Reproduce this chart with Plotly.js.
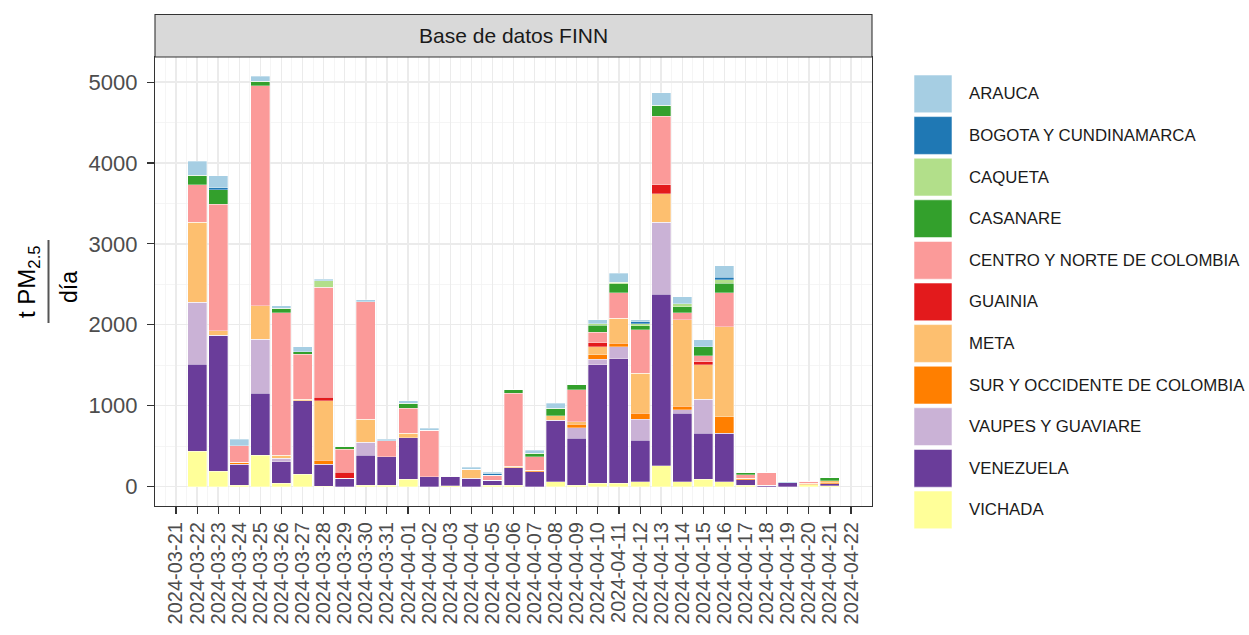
<!DOCTYPE html>
<html>
<head>
<meta charset="utf-8">
<script src="https://cdn.plot.ly/plotly-3.0.1.min.js"></script>
<style>
  html, body { margin: 0; padding: 0; background: #ffffff; }
  #chart { width: 1249px; height: 635px; }
</style>
</head>
<body>
<div id="chart"></div>
<script>
// ---------------- DATA ----------------
const dates = [
  '2024-03-22','2024-03-23','2024-03-24','2024-03-25','2024-03-26','2024-03-27','2024-03-28',
  '2024-03-29','2024-03-30','2024-03-31','2024-04-01','2024-04-02','2024-04-03','2024-04-04',
  '2024-04-05','2024-04-06','2024-04-07','2024-04-08','2024-04-09','2024-04-10','2024-04-11',
  '2024-04-12','2024-04-13','2024-04-14','2024-04-15','2024-04-16','2024-04-17','2024-04-18',
  '2024-04-19','2024-04-20','2024-04-21'
];
const tickDates = [
  '2024-03-21','2024-03-22','2024-03-23','2024-03-24','2024-03-25','2024-03-26','2024-03-27',
  '2024-03-28','2024-03-29','2024-03-30','2024-03-31','2024-04-01','2024-04-02','2024-04-03',
  '2024-04-04','2024-04-05','2024-04-06','2024-04-07','2024-04-08','2024-04-09','2024-04-10',
  '2024-04-11','2024-04-12','2024-04-13','2024-04-14','2024-04-15','2024-04-16','2024-04-17',
  '2024-04-18','2024-04-19','2024-04-20','2024-04-21','2024-04-22'
];
const yTicks = [0, 1000, 2000, 3000, 4000, 5000];
const regions = [
  'ARAUCA','BOGOTA Y CUNDINAMARCA','CAQUETA','CASANARE','CENTRO Y NORTE DE COLOMBIA',
  'GUAINIA','META','SUR Y OCCIDENTE DE COLOMBIA','VAUPES Y GUAVIARE','VENEZUELA','VICHADA'
];
const arauca    = [173,149,83,62,30,62,15,0,20,20,32,20,0,20,15,0,41,62,0,50,115,25,153,90,83,140,0,0,10,0,0];
const bogota    = [0,24,0,0,0,0,0,0,0,0,0,0,0,0,19,0,0,0,0,0,0,25,0,0,0,33,0,0,0,0,0];
const caqueta   = [0,0,0,0,0,0,82,0,0,0,0,0,0,0,0,0,0,0,0,15,17,25,0,33,0,41,0,0,0,0,0];
const casanare  = [116,178,0,53,54,28,0,33,0,0,62,0,0,0,0,41,42,91,62,88,107,49,136,75,111,116,25,0,0,0,41];
const centro    = [466,1563,206,2719,1761,561,1361,284,1452,198,310,577,0,0,62,900,165,0,392,128,317,536,846,90,74,421,45,152,0,25,0];
const guainia   = [0,0,0,0,0,0,42,75,0,0,0,0,0,0,0,0,0,0,0,50,0,0,111,0,41,0,0,0,0,0,0];
const meta      = [985,58,0,416,41,15,734,0,288,0,54,0,0,116,0,20,0,54,29,103,310,495,355,1065,425,1114,0,0,0,20,20];
const sur       = [0,0,25,0,0,0,50,0,0,0,0,0,0,0,0,0,21,0,45,53,42,71,0,49,0,206,15,0,0,0,15];
const vaupes    = [768,0,0,669,42,0,0,0,157,0,0,0,0,0,0,0,0,0,131,70,152,260,886,41,421,0,0,0,0,0,0];
const venezuela = [1073,1679,255,763,267,911,272,101,371,350,515,122,120,101,61,214,183,763,578,1464,1538,515,2121,846,569,598,70,19,50,0,25];
const vichada   = [439,192,19,390,40,151,6,0,19,19,89,0,10,0,19,19,0,60,19,40,40,60,258,60,89,60,15,0,0,20,10];

// ---------------- STYLE ----------------
const seriesByRegion = {
  'ARAUCA': arauca, 'BOGOTA Y CUNDINAMARCA': bogota, 'CAQUETA': caqueta, 'CASANARE': casanare,
  'CENTRO Y NORTE DE COLOMBIA': centro, 'GUAINIA': guainia, 'META': meta,
  'SUR Y OCCIDENTE DE COLOMBIA': sur, 'VAUPES Y GUAVIARE': vaupes, 'VENEZUELA': venezuela, 'VICHADA': vichada
};
const palette = ['#A6CEE3','#1F78B4','#B2DF8A','#33A02C','#FB9A99','#E31A1C','#FDBF6F','#FF7F00','#CAB2D6','#6A3D9A','#FFFF99'];
const FONT = 'Liberation Sans, Arial, Helvetica, sans-serif';

// panel geometry (pixels)
const L = 155, R = 872, T = 57, B = 506;
const W = R - L, H = B - T;
const px2x = p => (p - L) / W;
const px2y = p => (B - p) / H;

// ---------------- TRACES (stack bottom-up: VICHADA first) ----------------
const traces = [];
for (let i = regions.length - 1; i >= 0; i--) {
  traces.push({
    type: 'bar',
    name: regions[i],
    x: dates,
    y: seriesByRegion[regions[i]],
    width: 0.9 * 86400000,
    marker: { color: palette[i], line: { color: 'rgba(255,255,255,0.55)', width: 0.6 } },
    hoverinfo: 'skip',
    showlegend: false
  });
}

// ---------------- SHAPES & ANNOTATIONS ----------------
const shapes = [];
const annotations = [];

// strip
shapes.push({
  type: 'rect', xref: 'paper', yref: 'paper',
  x0: 0, x1: 1, y0: 1, y1: px2y(14.5),
  fillcolor: '#D9D9D9', line: { color: '#333333', width: 1.1 }, layer: 'above'
});
annotations.push({
  text: 'Base de datos FINN', xref: 'paper', yref: 'paper',
  x: 0.5, y: px2y(35.6), xanchor: 'center', yanchor: 'middle', showarrow: false,
  font: { family: FONT, size: 21, color: '#1A1A1A' }
});

// y-axis title as fraction
annotations.push({
  text: 't PM<sub>2.5</sub>', xref: 'paper', yref: 'paper',
  x: px2x(28), y: px2y(282), xanchor: 'center', yanchor: 'middle', showarrow: false,
  textangle: -90, font: { family: FONT, size: 24, color: '#000000' }
});
shapes.push({
  type: 'line', xref: 'paper', yref: 'paper',
  x0: px2x(48.5), x1: px2x(48.5), y0: px2y(240), y1: px2y(323),
  line: { color: '#555555', width: 2 }
});
annotations.push({
  text: 'día', xref: 'paper', yref: 'paper',
  x: px2x(69), y: px2y(287), xanchor: 'center', yanchor: 'middle', showarrow: false,
  textangle: -90, font: { family: FONT, size: 23, color: '#000000' }
});

// custom legend
const keyLeft = 914, keyRight = 952, keyTop0 = 75, keyStep = 41.6, keyH = 37.8, textLeft = 967;
regions.forEach((r, i) => {
  const top = keyTop0 + i * keyStep;
  shapes.push({
    type: 'rect', xref: 'paper', yref: 'paper',
    x0: px2x(keyLeft), x1: px2x(keyRight), y0: px2y(top + keyH), y1: px2y(top),
    fillcolor: palette[i], line: { color: 'rgba(255,255,255,0.7)', width: 0.8 }
  });
  annotations.push({
    text: r, xref: 'paper', yref: 'paper',
    x: px2x(textLeft), y: px2y(top + keyH / 2), xanchor: 'left', yanchor: 'middle', showarrow: false,
    font: { family: FONT, size: 16.8, color: '#1A1A1A' }
  });
});

// ---------------- LAYOUT ----------------
const layout = {
  width: 1249, height: 635,
  margin: { l: L, r: 1249 - R, t: T, b: 635 - B, pad: 0 },
  paper_bgcolor: '#FFFFFF', plot_bgcolor: '#FFFFFF',
  barmode: 'stack', bargap: 0,
  showlegend: false,
  font: { family: FONT },
  xaxis: {
    type: 'date',
    range: ['2024-03-20 00:10', '2024-04-22 23:50'],
    tickmode: 'array', tickvals: tickDates, ticktext: tickDates,
    tickangle: -90,
    ticks: 'outside', ticklen: 7, tickwidth: 1.1, tickcolor: '#333333',
    tickfont: { family: FONT, size: 20, color: '#4D4D4D' },
    showgrid: true, gridcolor: '#EBEBEB', gridwidth: 1.4,
    minor: { dtick: 43200000, tick0: '2024-03-20 12:00', showgrid: true, gridcolor: '#F2F2F2', gridwidth: 0.8 },
    showline: true, mirror: true, linecolor: '#333333', linewidth: 1.1,
    zeroline: false, fixedrange: true
  },
  yaxis: {
    range: [-240, 5310],
    tickmode: 'array', tickvals: yTicks, ticktext: yTicks.map(String),
    ticks: 'outside', ticklen: 7, tickwidth: 1.1, tickcolor: '#333333',
    ticklabelstandoff: 5,
    tickfont: { family: FONT, size: 22, color: '#4D4D4D' },
    showgrid: true, gridcolor: '#EBEBEB', gridwidth: 1.4,
    minor: { dtick: 500, tick0: 0, showgrid: true, gridcolor: '#F2F2F2', gridwidth: 0.8 },
    showline: true, mirror: true, linecolor: '#333333', linewidth: 1.1,
    zeroline: false, fixedrange: true
  },
  shapes: shapes,
  annotations: annotations
};

Plotly.newPlot('chart', traces, layout, { displayModeBar: false, staticPlot: true });
</script>
</body>
</html>
